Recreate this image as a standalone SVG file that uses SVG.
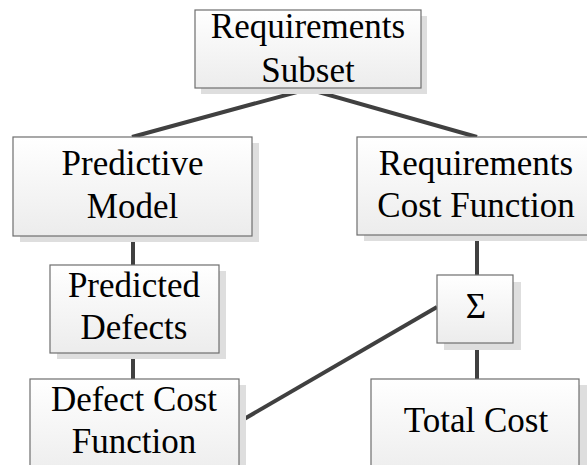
<svg xmlns="http://www.w3.org/2000/svg" width="587" height="465" viewBox="0 0 587 465">
  <defs>
    <linearGradient id="boxFill" x1="0" y1="0" x2="0" y2="1">
      <stop offset="0" stop-color="#ffffff"/>
      <stop offset="1" stop-color="#ececec"/>
    </linearGradient>
  </defs>
  <style>
    .shadow { fill: #dedede; }
    .box { fill: url(#boxFill); stroke: #6e6e6e; stroke-width: 1.2; }
    .label { font-family: "Liberation Serif", "Times New Roman", serif; font-size: 35px; fill: #000; text-anchor: middle; }
    .link { stroke: #404040; stroke-width: 4; fill: none; stroke-linejoin: miter; }
  </style>
  <rect width="587" height="465" fill="#ffffff"/>

  <!-- connectors -->
  <g id="connectors">
    <polyline class="link" points="132,137 308,89 477,137"/>
    <line class="link" x1="133" y1="236" x2="133" y2="265"/>
    <line class="link" x1="133" y1="353" x2="133" y2="379"/>
    <line class="link" x1="477" y1="235" x2="477" y2="275"/>
    <line class="link" x1="477" y1="343" x2="477" y2="379"/>
    <line class="link" x1="239" y1="422" x2="437" y2="307"/>
  </g>

  <g id="requirements-subset">
    <rect class="shadow" x="201" y="16" width="226" height="78"/>
    <rect class="box" x="195" y="10" width="226" height="78"/>
    <text class="label" x="308" y="38">Requirements</text>
    <text class="label" x="308" y="82">Subset</text>
  </g>

  <g id="predictive-model">
    <rect class="shadow" x="20" y="143" width="239" height="99"/>
    <rect class="box" x="13" y="137" width="239" height="99"/>
    <text class="label" x="132.5" y="175">Predictive</text>
    <text class="label" x="132.5" y="218">Model</text>
  </g>

  <g id="requirements-cost-function">
    <rect class="shadow" x="364" y="143" width="238" height="98"/>
    <rect class="box" x="357" y="137" width="238" height="98"/>
    <text class="label" x="476" y="175">Requirements</text>
    <text class="label" x="476" y="217">Cost Function</text>
  </g>

  <g id="predicted-defects">
    <rect class="shadow" x="57" y="271" width="169" height="88"/>
    <rect class="box" x="50" y="265" width="169" height="88"/>
    <text class="label" x="134" y="297">Predicted</text>
    <text class="label" x="134" y="339">Defects</text>
  </g>

  <g id="defect-cost-function">
    <rect class="shadow" x="37" y="385" width="209" height="100"/>
    <rect class="box" x="30" y="379" width="209" height="100"/>
    <text class="label" x="134" y="411">Defect Cost</text>
    <text class="label" x="134" y="453">Function</text>
  </g>

  <g id="sum">
    <rect class="shadow" x="444" y="282" width="77" height="68"/>
    <rect class="box" x="437" y="275" width="76" height="68"/>
    <text class="label" x="476" y="318">Σ</text>
  </g>

  <g id="total-cost">
    <rect class="shadow" x="378" y="385" width="209" height="100"/>
    <rect class="box" x="371" y="379" width="208" height="100"/>
    <text class="label" x="476" y="432">Total Cost</text>
  </g>
</svg>
